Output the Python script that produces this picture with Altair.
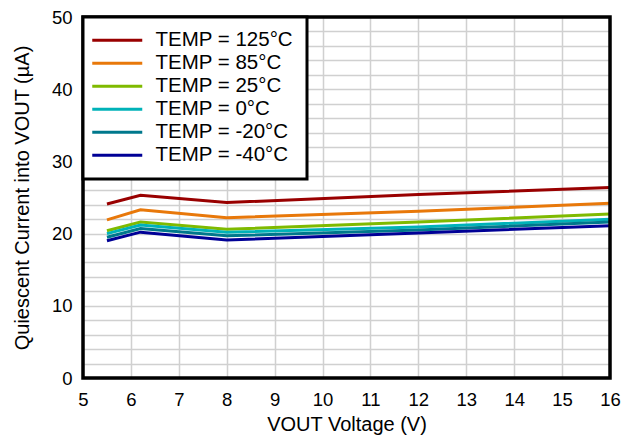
import altair as alt
import pandas as pd

# Measured supply current into VOUT versus VOUT voltage
vout = [5.5, 6.2, 8, 12, 16]
temps = ["TEMP = 125°C", "TEMP = 85°C", "TEMP = 25°C",
         "TEMP = 0°C", "TEMP = -20°C", "TEMP = -40°C"]
iq_125 = [24.1, 25.3, 24.3, 25.4, 26.4]
iq_85 = [21.9, 23.3, 22.2, 23.1, 24.2]
iq_25 = [20.4, 21.6, 20.6, 21.6, 22.7]
iq_0 = [20.0, 21.2, 20.2, 20.9, 22.0]
iq_m20 = [19.5, 20.7, 19.7, 20.5, 21.6]
iq_m40 = [19.0, 20.2, 19.1, 20.1, 21.1]
colors = ["#990000", "#E8780A", "#7FBA00", "#00B2B8", "#00788C", "#000096"]

series = [iq_125, iq_85, iq_25, iq_0, iq_m20, iq_m40]
rows = []
for t, vals in zip(temps, series):
    for v, i in zip(vout, vals):
        rows.append({"vout": v, "iq": i, "temp": t})
df = pd.DataFrame(rows)

FONT = "Liberation Sans"
W, H = 527, 361

lines = alt.Chart(df).mark_line(strokeWidth=3).encode(
    x=alt.X("vout:Q", title="VOUT Voltage (V)",
            scale=alt.Scale(domain=[5, 16], nice=False, zero=False),
            axis=alt.Axis(values=list(range(5, 17)), labelPadding=12,
                          titlePadding=6, labelFlush=False,
                          labelFontSize=18.5, titleFontSize=20)),
    y=alt.Y("iq:Q", title="Quiescent Current into VOUT (µA)",
            scale=alt.Scale(domain=[0, 50], nice=False),
            axis=alt.Axis(values=list(range(0, 51, 2)),
                          labelExpr="datum.value % 10 == 0 ? datum.label : ''",
                          labelPadding=11, titlePadding=19,
                          labelFontSize=18.5, titleFontSize=20)),
    color=alt.Color("temp:N", sort=temps,
                    scale=alt.Scale(domain=temps, range=colors),
                    legend=alt.Legend(title=None, orient="top-left", offset=0,
                                      symbolType="M-5,0H5", symbolStrokeWidth=3,
                                      symbolSize=100, symbolOffset=11,
                                      labelOffset=28, labelFontSize=20.5,
                                      labelFont=FONT, labelColor="black",
                                      padding=13, rowPadding=2,
                                      fillColor="white", strokeColor="black")),
    order=alt.Order("vout:Q"),
)

# heavy frame around the plotting area
frame = alt.Chart(pd.DataFrame({"f": [0]})).mark_rect(
    fill=None, stroke="black", strokeWidth=3.5
).encode(x=alt.value(0), x2=alt.value(W), y=alt.value(0), y2=alt.value(H))

chart = alt.layer(lines, frame).properties(
    width=W, height=H,
    autosize=alt.AutoSizeParams(type="none"),
    padding={"left": 83, "top": 17, "right": 23, "bottom": 58},
).configure_view(
    stroke=None
).configure_axis(
    domain=False, ticks=False, grid=True, gridColor="#D0D0D0", gridWidth=1.5,
    labelFont=FONT, titleFont=FONT,
    labelColor="black", titleColor="black", titleFontWeight="normal"
).configure_legend(
    strokeWidth=3
)

chart.save("out.html", embed_options={"renderer": "svg", "actions": False})
